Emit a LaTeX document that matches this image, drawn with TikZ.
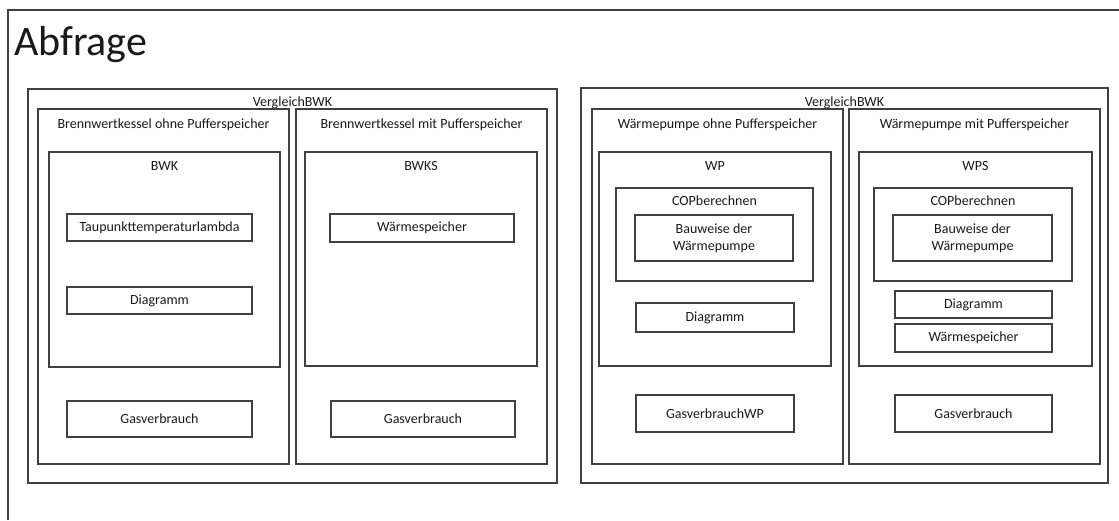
\documentclass[tikz,border=0pt]{standalone}
\usepackage{fontspec}
\setmainfont{Carlito}

\begin{document}
\begin{tikzpicture}[x=1pt, y=-1pt,
    frame/.style={draw=black!75, line width=1.3pt, inner sep=0pt},
    box/.style={frame, font=\fontsize{14}{17}\selectfont, align=center, text=black!90},
    heading/.style={font=\fontsize{14}{17}\selectfont, text=black!90, inner sep=0pt,
                    text height=9.5pt, text depth=3pt},
    title/.style={font=\fontsize{42}{50}\selectfont, text=black!90, inner sep=0pt, anchor=base west}
  ]
    \useasboundingbox (0,0) rectangle (1119,520);

    % Outer frame
    \draw[black!75, line width=1.3pt] (8,520) |- (1119,10);
    \node[title] (abfrage) at (14,55) {Abfrage};

    % Left group
    \node[frame, minimum width=529, minimum height=394] (vglL) at (292.5,286) {};
    \node[heading] (vglLt) at (292.5,103) {VergleichBWK};
    \node[frame, minimum width=251, minimum height=355] (ohneL) at (163.5,286.5) {};
    \node[heading] (ohneLt) at (163.5,125) {Brennwertkessel ohne Pufferspeicher};
    \node[frame, minimum width=251, minimum height=355] (mitL) at (421.5,286.5) {};
    \node[heading] (mitLt) at (421.5,125) {Brennwertkessel mit Pufferspeicher};

    \node[frame, minimum width=231, minimum height=215] (bwk) at (164.5,259.5) {};
    \node[heading] (bwkt) at (164.5,167) {BWK};
    \node[box, minimum width=185, minimum height=27] (taupunkt) at (159.5,227.5) {Taupunkttemperaturlambda};
    \node[box, minimum width=185, minimum height=27] (diagBWK) at (159.5,300.5) {Diagramm};
    \node[box, minimum width=185, minimum height=36] (gasBWK) at (159.5,419) {Gasverbrauch};

    \node[frame, minimum width=232, minimum height=214] (bwks) at (421,259) {};
    \node[heading] (bwkst) at (421,167) {BWKS};
    \node[box, minimum width=184, minimum height=28] (speicherBWKS) at (422,228) {Wärmespeicher};
    \node[box, minimum width=184, minimum height=36] (gasBWKS) at (423,419) {Gasverbrauch};

    % Right group
    \node[frame, minimum width=527, minimum height=395] (vglR) at (844.5,285.5) {};
    \node[heading] (vglRt) at (844.5,103) {VergleichBWK};
    \node[frame, minimum width=251, minimum height=355] (ohneR) at (717.5,286.5) {};
    \node[heading] (ohneRt) at (717.5,125) {Wärmepumpe ohne Pufferspeicher};
    \node[frame, minimum width=251, minimum height=355] (mitR) at (974.5,286.5) {};
    \node[heading] (mitRt) at (974.5,125) {Wärmepumpe mit Pufferspeicher};

    \node[frame, minimum width=232, minimum height=214] (wp) at (715,259) {};
    \node[heading] (wpt) at (715,167) {WP};
    \node[frame, minimum width=197, minimum height=93] (copWP) at (714.5,234.5) {};
    \node[heading] (copWPt) at (714.5,202) {COPberechnen};
    \node[box, minimum width=158, minimum height=46] (bauWP) at (714,238) {Bauweise der\\Wärmepumpe};
    \node[box, minimum width=158, minimum height=29] (diagWP) at (715,317.5) {Diagramm};
    \node[box, minimum width=158, minimum height=37] (gasWP) at (715,413.5) {GasverbrauchWP};

    \node[frame, minimum width=233, minimum height=214] (wps) at (975.5,259) {};
    \node[heading] (wpst) at (975.5,167) {WPS};
    \node[frame, minimum width=198, minimum height=93] (copWPS) at (973,234.5) {};
    \node[heading] (copWPSt) at (973,202) {COPberechnen};
    \node[box, minimum width=159, minimum height=46] (bauWPS) at (972.5,238) {Bauweise der\\Wärmepumpe};
    \node[box, minimum width=157, minimum height=27] (diagWPS) at (973.5,304.5) {Diagramm};
    \node[box, minimum width=157, minimum height=28] (speicherWPS) at (973.5,338) {Wärmespeicher};
    \node[box, minimum width=157, minimum height=37] (gasWPS) at (973.5,413.5) {Gasverbrauch};
\end{tikzpicture}
\end{document}
